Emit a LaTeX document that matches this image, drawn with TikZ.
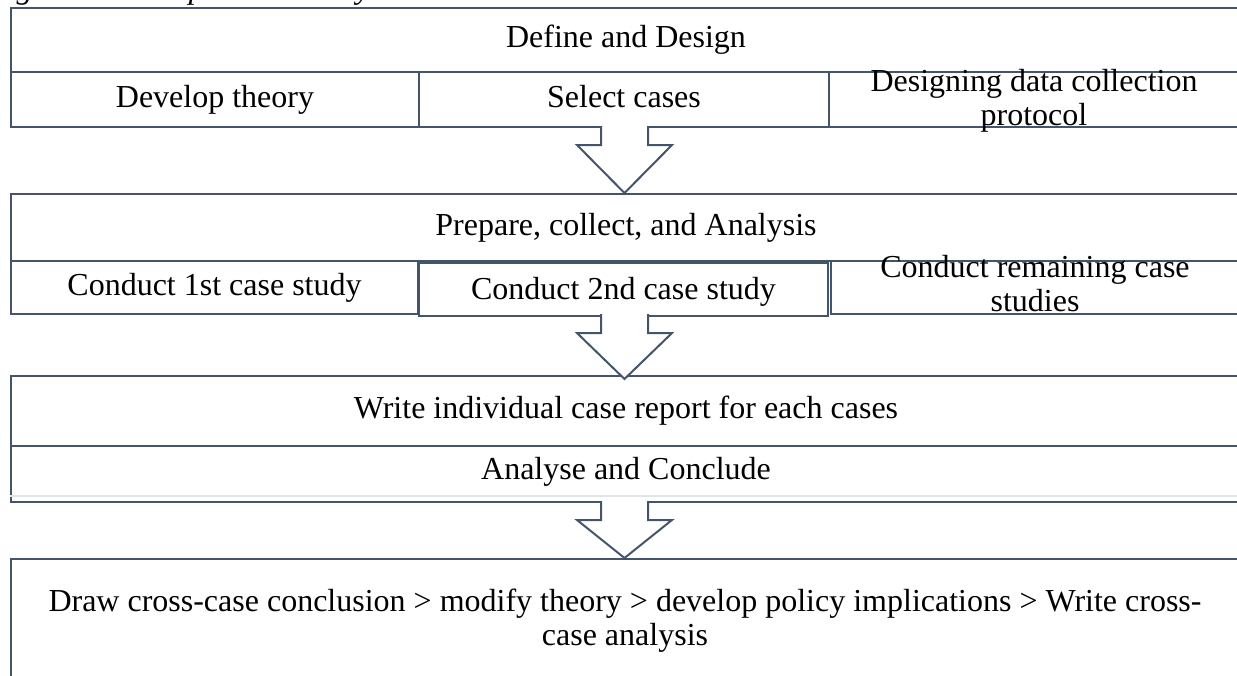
\documentclass[tikz,border=0pt]{standalone}
\usepackage{fontspec}
\setmainfont{Liberation Serif}
\definecolor{frame}{HTML}{44546A}
\definecolor{faint}{HTML}{E2E5E8}
\newcommand\blockarr[3]{%
  \draw[arrowline] (601,#1) -- (601,#2) -- (577,#2) -- (624.5,#3) -- (672,#2) -- (648,#2) -- (648,#1);}
\begin{document}
\begin{tikzpicture}[x=1pt,y=-1pt,
  cell/.style={draw=frame, line width=2pt, fill=white, rectangle, inner sep=0pt, anchor=north west},
  lbl/.style={font=\fontsize{32}{34}\selectfont, align=center, inner sep=0pt, text=black},
  one/.style={lbl, text height=22pt, text depth=7pt},
  arrowline/.style={draw=frame, line width=2pt, fill=white, line join=miter},
  ]
\useasboundingbox (0,0) rectangle (1237,675);
\begin{scope}
\clip (0,0) rectangle (1237,675);
\node[anchor=base west, inner sep=0pt, font=\fontsize{32}{33}\selectfont\itshape] (cap) at (-12,-2) {Figure 3: Multiple-case study Procedure};

% stage 1
\node[cell, minimum width=1230pt, minimum height=64pt] (dd) at (10,7) {};
\node[cell, minimum width=408pt, minimum height=55pt] (dt) at (10,71) {};
\node[cell, minimum width=410pt, minimum height=55pt] (sc) at (418,71) {};
\node[cell, minimum width=412pt, minimum height=55pt] (dp) at (828,71) {};
\node[one] (ddt) at (dd.center) {Define and Design};
\node[one] (dtt) at (dt.center) {Develop theory};
\node[one] (sct) at (sc.center) {Select cases};
\node[lbl, anchor=base] (dpt) at (1034,125) {Designing data collection\\protocol};

% stage 2
\node[cell, minimum width=1230pt, minimum height=67pt] (pc) at (10,193) {};
\node[cell, minimum width=407pt, minimum height=53pt] (c1) at (10,260) {};
\node[cell, minimum width=410pt, minimum height=53pt] (c3) at (830,260) {};
\node[cell, minimum width=409pt, minimum height=53pt] (c2) at (418,262) {};
\node[one] (pct) at (pc.center) {Prepare, collect, and Analysis};
\node[one] (c1t) at (c1.center) {Conduct 1st case study};
\node[one] (c2t) at ([yshift=-2pt]c2.center) {Conduct 2nd case study};
\node[lbl, anchor=base] (c3t) at (1035,311) {Conduct remaining case\\studies};

% stage 3
\node[cell, minimum width=1230pt, minimum height=70pt] (wr) at (10,375) {};
\node[cell, minimum width=1230pt, minimum height=56pt] (ac) at (10,445) {};
\draw[faint, line width=1.5pt] ([yshift=7pt]ac.south west) -- ([yshift=7pt]ac.south east);
\node[one] (wrt) at (wr.center) {Write individual case report for each cases};
\node[one] (act) at ([yshift=2pt]ac.center) {Analyse and Conclude};

% stage 4
\node[cell, minimum width=1230pt, minimum height=160pt] (cc) at (10,558) {};
\node[lbl, anchor=base] (cct) at (625,645) {Draw cross-case conclusion > modify theory > develop policy implications > Write cross-\\case analysis};

% block arrows
\blockarr{126}{145}{193}
\blockarr{314}{333}{379}
\blockarr{501}{520}{558}
\end{scope}
\end{tikzpicture}
\end{document}
